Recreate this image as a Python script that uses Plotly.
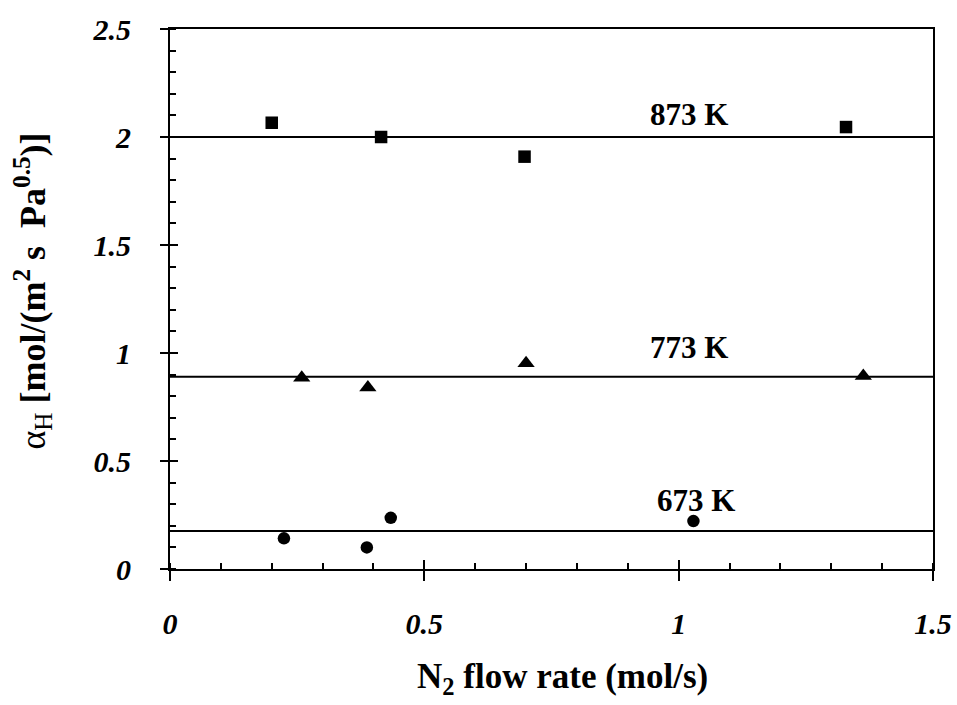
import plotly.graph_objects as go

# Data
x_873 = [0.200, 0.415, 0.697, 1.329]
y_873 = [2.066, 2.000, 1.909, 2.046]
fit_873 = 2.00

x_773 = [0.259, 0.389, 0.700, 1.363]
y_773 = [0.885, 0.840, 0.952, 0.893]
fit_773 = 0.89

x_673 = [0.224, 0.387, 0.434, 1.029]
y_673 = [0.142, 0.100, 0.237, 0.222]
fit_673 = 0.176

fit_x = [0.0, 1.5]
labels = ["873 K", "773 K", "673 K"]
label_x = [1.02, 1.02, 1.034]
label_y = [2.105, 1.027, 0.315]

x_ticks = [0, 0.5, 1, 1.5]
x_ticktext = ["0", "0.5", "1", "1.5"]
y_ticks = [0, 0.5, 1, 1.5, 2, 2.5]
y_ticktext = ["0", "0.5", "1", "1.5", "2", "2.5"]

FONT = "Liberation Serif"

fig = go.Figure()
for fy in [fit_873, fit_773, fit_673]:
    fig.add_trace(go.Scatter(x=fit_x, y=[fy, fy], mode="lines",
                             line=dict(color="black", width=1.8),
                             showlegend=False, hoverinfo="skip"))

fig.add_trace(go.Scatter(x=x_873, y=y_873, mode="markers",
                         marker=dict(symbol="square", size=12.5, color="black"),
                         showlegend=False))
fig.add_trace(go.Scatter(x=x_773, y=y_773, mode="markers",
                         marker=dict(symbol="triangle-up", size=15, color="black"),
                         showlegend=False))
fig.add_trace(go.Scatter(x=x_673, y=y_673, mode="markers",
                         marker=dict(symbol="circle", size=12.5, color="black"),
                         showlegend=False))
# invisible trace so overlay axes are drawn
fig.add_trace(go.Scatter(x=[None], y=[None], xaxis="x2", yaxis="y2",
                         showlegend=False, hoverinfo="skip"))

for t, lx, ly in zip(labels, label_x, label_y):
    fig.add_annotation(x=lx, y=ly, text="<b>%s</b>" % t, showarrow=False,
                       font=dict(family=FONT, size=31, color="black"))

tickfont = dict(family=FONT, size=30, color="black", style="italic", weight="bold")

fig.update_layout(
    width=957, height=705,
    margin=dict(l=170, r=24, t=29, b=136),
    paper_bgcolor="white", plot_bgcolor="white",
    xaxis=dict(range=[0, 1.5], tickvals=x_ticks, ticktext=x_ticktext,
               ticks="outside", ticklen=10, tickwidth=2, tickcolor="black",
               showline=True, linecolor="black", linewidth=2, mirror=True,
               showgrid=False, zeroline=False, tickfont=tickfont,
               ticklabelstandoff=17, automargin=False,
               minor=dict(dtick=0.1, ticks="inside", ticklen=6, tickwidth=1.5,
                          tickcolor="black", showgrid=False)),
    yaxis=dict(range=[0, 2.5], tickvals=y_ticks, ticktext=y_ticktext,
               ticks="outside", ticklen=8, tickwidth=2, tickcolor="black",
               showline=True, linecolor="black", linewidth=2, mirror=True,
               showgrid=False, zeroline=False, tickfont=tickfont,
               ticklabelstandoff=23, automargin=False,
               minor=dict(dtick=0.1, ticks="inside", ticklen=6, tickwidth=1.5,
                          tickcolor="black", showgrid=False)),
    xaxis2=dict(range=[0, 1.5], overlaying="x", anchor="y", side="bottom",
                tickvals=x_ticks, ticks="inside", ticklen=9, tickwidth=2,
                tickcolor="black", showticklabels=False, showline=False,
                showgrid=False, zeroline=False, automargin=False),
    yaxis2=dict(range=[0, 2.5], overlaying="y", anchor="x", side="left",
                tickvals=y_ticks, ticks="inside", ticklen=8, tickwidth=2,
                tickcolor="black", showticklabels=False, showline=False,
                showgrid=False, zeroline=False, automargin=False),
)

fig.add_annotation(xref="paper", yref="paper", x=0.515, y=-0.202,
                   text="<b>N<sub>2</sub> flow rate (mol/s)</b>", showarrow=False,
                   xanchor="center", yanchor="middle",
                   font=dict(family=FONT, size=35, color="black"))
fig.add_annotation(xref="paper", yref="paper", x=-0.18, y=0.515,
                   text="α<sub>H</sub> <b>[mol/(m<sup>2</sup> s  Pa<sup>0.5</sup>)]</b>",
                   showarrow=False, textangle=-90,
                   xanchor="center", yanchor="middle",
                   font=dict(family=FONT, size=36, color="black"))

fig.write_html("out.html", config={"displayModeBar": False},
               post_script="document.body.style.margin='0';document.body.style.overflow='hidden';")
